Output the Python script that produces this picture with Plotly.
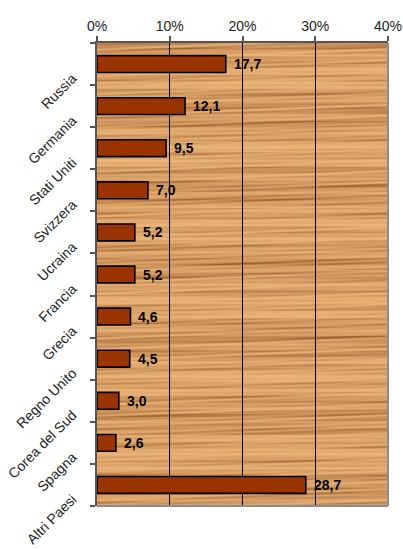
import base64, struct, zlib
import numpy as np
import plotly.graph_objects as go

categories = ["Russia", "Germania", "Stati Uniti", "Svizzera", "Ucraina", "Francia",
              "Grecia", "Regno Unito", "Corea del Sud", "Spagna", "Altri Paesi"]
values = [17.7, 12.1, 9.5, 7.0, 5.2, 5.2, 4.6, 4.5, 3.0, 2.6, 28.7]
x_ticks = [0, 10, 20, 30, 40]
x_ticklabels = ["0%", "10%", "20%", "30%", "40%"]

labels = [f"{v:.1f}".replace(".", ",") for v in values]


# ---- decorative wood texture (deterministic, built as an inline PNG) ----
def wood_png(w=290, h=463):
    yy, xx = np.mgrid[0:h, 0:w].astype(float)
    band = (0.40 + 0.20 * np.sin(yy * 0.41) + 0.14 * np.sin(yy * 1.37 + 1.0)
            + 0.16 * np.sin(yy * 0.083 + 2.0) + 0.08 * np.sin(yy * 2.9 + 0.3)
            + 0.10 * np.sin(yy * 0.19 + 0.7) * np.sin(xx * 0.02 + 1.3))
    streak = (0.6 + 0.4 * np.sin(xx * 0.031 + yy * 0.9) * np.sin(xx * 0.013 + yy * 0.23)
              + 0.15 * np.sin(xx * 0.07 + yy * 1.7))
    d = np.clip(band * streak, 0, 1)
    light = np.array([234, 180, 120], float)
    dark = np.array([152, 88, 42], float)
    img = (light[None, None, :] * (1 - d[..., None]) + dark[None, None, :] * d[..., None])
    img = img.astype(np.uint8)
    raw = b"".join(b"\x00" + img[r].tobytes() for r in range(h))

    def chunk(tag, data):
        c = struct.pack(">I", len(data)) + tag + data
        return c + struct.pack(">I", zlib.crc32(tag + data) & 0xFFFFFFFF)

    png = (b"\x89PNG\r\n\x1a\n" + chunk(b"IHDR", struct.pack(">IIBBBBB", w, h, 8, 2, 0, 0, 0))
           + chunk(b"IDAT", zlib.compress(raw, 9)) + chunk(b"IEND", b""))
    return "data:image/png;base64," + base64.b64encode(png).decode()


pos = list(range(len(categories)))

fig = go.Figure()
fig.add_trace(go.Bar(
    x=values, y=pos, orientation="h", width=0.4,
    marker=dict(color="#993300", line=dict(color="#000000", width=1.6)),
    hoverinfo="skip",
))

annotations = [
    dict(x=v, y=p, text=t, xref="x", yref="y", xanchor="left", yanchor="middle",
         xshift=6, showarrow=False,
         font=dict(family="Liberation Sans, Arial, sans-serif", size=14, color="#000000",
                   weight="bold"))
    for v, p, t in zip(values, pos, labels)
]

fig.update_layout(
    width=403, height=549,
    margin=dict(l=97, r=15, t=43, b=43),
    paper_bgcolor="#ffffff",
    plot_bgcolor="rgba(0,0,0,0)",
    showlegend=False,
    font=dict(family="Liberation Sans, Arial, sans-serif", size=14, color="#222222"),
    images=[dict(source=wood_png(), xref="paper", yref="paper", x=0, y=1,
                 sizex=1, sizey=1, sizing="stretch", layer="below",
                 xanchor="left", yanchor="top")],
    annotations=annotations,
    xaxis=dict(
        side="top", range=[0, 40], tickvals=x_ticks, ticktext=x_ticklabels,
        showgrid=True, gridcolor="#000000", gridwidth=1, zeroline=False,
        showline=True, linecolor="#555555", linewidth=1.5,
        ticks="outside", ticklen=5, tickcolor="#555555", tickwidth=1.5,
        ticklabeloverflow="allow",
        tickfont=dict(size=14, color="#222222"), fixedrange=True, automargin=False,
    ),
    yaxis=dict(
        range=[len(categories) - 0.5, -0.5],
        tickvals=[i + 0.3 for i in pos],
        ticktext=categories,
        tickangle=-45, showgrid=False, zeroline=False,
        showline=True, linecolor="#555555", linewidth=1.5,
        ticks="", ticklabelstandoff=20, ticklabeloverflow="allow",
        minor=dict(tickvals=[i - 0.5 for i in range(len(categories) + 1)],
                   ticks="outside", ticklen=5, tickcolor="#555555", tickwidth=1.5,
                   showgrid=False),
        tickfont=dict(size=14, color="#222222"), fixedrange=True, automargin=False,
    ),
    shapes=[
        dict(type="line", xref="paper", yref="paper", x0=1, x1=1, y0=0, y1=1,
             line=dict(color="#8c8c8c", width=2)),
        dict(type="line", xref="paper", yref="paper", x0=0, x1=1, y0=0, y1=0,
             line=dict(color="#8c8c8c", width=2)),
    ],
)

fig.write_html("out.html", post_script="document.body.style.margin='0';",
               config={"displayModeBar": False})
